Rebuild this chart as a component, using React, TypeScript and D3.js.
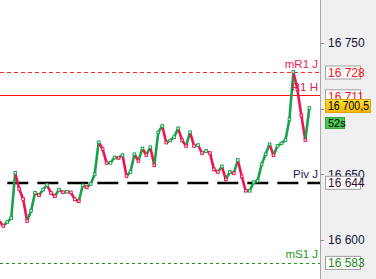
import React from "react";
import * as d3 from "d3";

const prices: number[] = [
  16614.5, 16610.7, 16613.7, 16616.7, 16651.2, 16638.8, 16631.2, 16614.5, 16622.3, 16636.0,
  16634.0, 16638.3, 16641.9, 16635.8, 16633.3, 16638.3, 16636.3, 16636.8, 16636.3, 16631.0,
  16629.5, 16641.6, 16640.1, 16642.6, 16650.0, 16674.4, 16669.3, 16658.6, 16658.8, 16662.8,
  16662.5, 16664.7, 16648.7, 16651.8, 16665.3, 16660.2, 16669.7, 16664.7, 16670.6, 16656.9,
  16681.9, 16686.8, 16674.2, 16675.8, 16678.4, 16685.0, 16675.9, 16671.6, 16682.0, 16671.6,
  16672.3, 16666.2, 16667.8, 16666.2, 16653.8, 16651.8, 16656.0, 16646.1, 16651.8, 16650.8,
  16660.9, 16648.5, 16637.5, 16637.5, 16643.9, 16645.1, 16657.6, 16665.3, 16672.9, 16664.5,
  16671.6, 16673.6, 16676.1, 16691.9, 16728.1, 16714.7, 16694.8, 16676.1, 16700.5,
];

const yTicks: number[] = [16600, 16650, 16700, 16750];

const levelNames: string[] = ["mR1 J", "R1 H", "Piv J", "mS1 J"];
const levelValues: number[] = [16728, 16711, 16644, 16583];
const lastPrice = 16700.5;
const countdown = "52s";

const W = 376;
const H = 279;
const PLOT_R = 320;

const GREEN = "#17a24a";
const RED = "#f2124e";

const loc = d3.formatLocale({ decimal: ",", thousands: " ", grouping: [3], currency: ["", ""] });
const fmtInt = loc.format(",");
const fmtDec = loc.format(",.1f");

export default function App() {
  const x = d3.scaleLinear().domain([0, prices.length - 1]).range([-0.7, 309.3]);
  const y = d3.scaleLinear().domain([16600, 16750]).range([240, 43]);

  const segs = prices.slice(1).map((v, i) => {
    const up = v >= prices[i];
    return { x1: x(i), y1: y(prices[i]), x2: x(i + 1), y2: y(v), color: up ? GREEN : RED };
  });

  const levelStyles = [
    { stroke: "#ff2a2a", dash: "4 3", width: 1, label: "#e8205a", boxText: "#ff1010", offset: 0 },
    { stroke: "#ff1010", dash: "", width: 1, label: "#e8204a", boxText: "#ff1010", offset: 1 },
    { stroke: "#000000", dash: "21 9", width: 2.5, label: "#1a1a5a", boxText: "#3a0a2a", offset: 0.5 },
    { stroke: "#1a9a1a", dash: "3 3", width: 1, label: "#1a9a1a", boxText: "#1a8a1a", offset: 0.3 },
  ];

  const font = "'Liberation Sans', Arial, sans-serif";

  return (
    <svg width={W} height={H} style={{ position: "absolute", left: 0, top: 0, background: "#fff" }}>
      <defs>
        <clipPath id="plot">
          <rect x={0} y={0} width={PLOT_R} height={H} />
        </clipPath>
        <linearGradient id="yel" x1="0" y1="0" x2="0" y2="1">
          <stop offset="0" stopColor="#ffdf3a" />
          <stop offset="1" stopColor="#f2b400" />
        </linearGradient>
      </defs>
      {/* axis panel */}
      <rect x={PLOT_R} y={0} width={W - PLOT_R} height={H} fill="#f0f0f2" />
      <line x1={PLOT_R + 0.5} x2={PLOT_R + 0.5} y1={0} y2={H} stroke="#a8a8a8" />

      {/* level lines */}
      <g clipPath="url(#plot)">
        {levelValues.map((v, i) => (
          <line
            key={levelNames[i]}
            x1={0}
            x2={PLOT_R}
            y1={Math.round(y(v) + levelStyles[i].offset) + (levelStyles[i].width === 1 ? 0.5 : 0)}
            y2={Math.round(y(v) + levelStyles[i].offset) + (levelStyles[i].width === 1 ? 0.5 : 0)}
            stroke={levelStyles[i].stroke}
            strokeWidth={levelStyles[i].width}
            strokeDasharray={levelStyles[i].dash || undefined}
            strokeDashoffset={i === 2 ? 22.7 : 0}
          />
        ))}
        {/* price line */}
        {segs.map((s, i) => (
          <line key={"s" + i} x1={s.x1} y1={s.y1} x2={s.x2} y2={s.y2} stroke={s.color} strokeWidth={2.6} strokeLinecap="round" />
        ))}
        {segs.map((s, i) => (
          <rect key={"m" + i} x={s.x2 - 1.3} y={s.y2 - 1.3} width={2.6} height={2.6} fill="#fff" stroke={s.color} strokeWidth={1} />
        ))}
      </g>

      {/* level labels */}
      {levelValues.map((v, i) => (
        <text
          key={"l" + i}
          x={318}
          y={y(v) - 4 + (i === 1 ? 1 : 0)}
          textAnchor="end"
          fontFamily={font}
          fontSize={11.5}
          fill={levelStyles[i].label}
        >
          {levelNames[i]}
        </text>
      ))}

      {/* y ticks */}
      {yTicks.map((t) => (
        <g key={t}>
          <line x1={PLOT_R} x2={PLOT_R + 4} y1={Math.round(y(t)) + 0.5} y2={Math.round(y(t)) + 0.5} stroke="#909090" />
          <text x={328} y={y(t)} dy="0.35em" fontFamily={font} fontSize={12} fill="#141432">
            {fmtInt(t)}
          </text>
        </g>
      ))}

      {/* level boxes */}
      {levelValues.map((v, i) => {
        const cy = y(v) + 0.6 + (i === 1 ? 1.5 : 0);
        return (
          <g key={"b" + i}>
            <rect x={325.5} y={cy - 6.5} width={35} height={13} fill="#fff" stroke="#a0a0a0" />
            <text x={328} y={cy} dy="0.36em" fontFamily={font} fontSize={12} fill={levelStyles[i].boxText}>
              {fmtInt(v)}
            </text>
          </g>
        );
      })}

      {/* last price box */}
      {(() => {
        const cy = y(lastPrice) - 2;
        return (
          <g>
            <rect x={325.5} y={cy - 6.5} width={45} height={13} fill="url(#yel)" stroke="#e0a400" />
            <text x={328} y={cy} dy="0.36em" fontFamily={font} fontSize={12} fill="#000" textLength={41} lengthAdjust="spacingAndGlyphs">
              {fmtDec(lastPrice)}
            </text>
            <rect x={325.5} y={cy + 11.5} width={19} height={11} fill="#4cc94c" stroke="#3aa53a" />
            <text x={328} y={cy + 17} dy="0.36em" fontFamily={font} fontSize={11} fill="#000">
              {countdown}
            </text>
          </g>
        );
      })()}
    </svg>
  );
}
